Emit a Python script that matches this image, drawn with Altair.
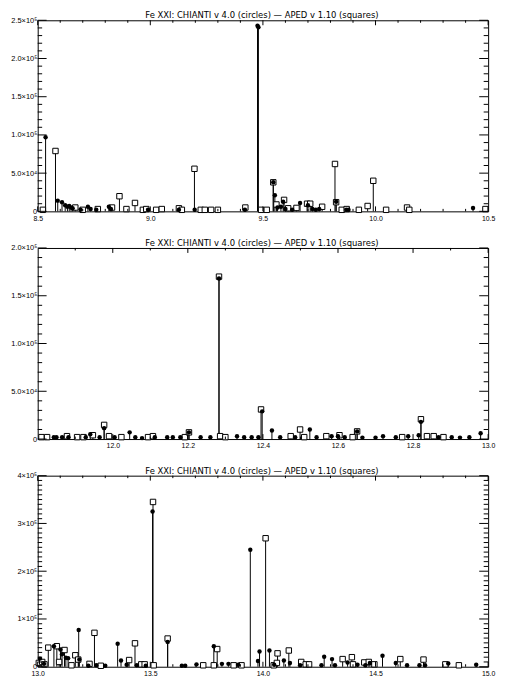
import altair as alt
import pandas as pd

TITLE = "Fe XXI:  CHIANTI v 4.0 (circles) \u2014 APED v 1.10 (squares)"

# ---------------- Panel 1 (8.5 - 10.5 A) ----------------
p1_ch_lam = [8.535, 8.589, 8.608, 8.622, 8.632, 8.640, 8.648, 8.655, 8.690, 8.723,
             8.735, 8.760, 8.816, 8.825, 8.990, 9.127, 9.197, 9.420, 9.476, 9.480,
             9.546, 9.553, 9.565, 9.580, 9.590, 9.600, 9.630, 9.665, 9.700, 9.720,
             9.735, 9.750, 9.825, 9.870, 9.880, 10.433]
p1_ch_val = [97000, 14000, 12000, 8000, 6000, 7000, 5000, 4000, 2000, 6000,
             3000, 2000, 6000, 3000, 2000, 2000, 2000, 2000, 243000, 241000,
             38000, 21000, 5000, 6000, 12500, 3000, 2000, 11000, 8000, 3000,
             2000, 3000, 12500, 2000, 2000, 4500]
p1_ap_lam = [8.523, 8.579, 8.667, 8.700, 8.767, 8.830, 8.863, 8.894, 8.932, 8.967,
             8.982, 9.026, 9.051, 9.127, 9.140, 9.196, 9.224, 9.242, 9.270, 9.300,
             9.422, 9.492, 9.517, 9.546, 9.560, 9.594, 9.612, 9.649, 9.696, 9.710,
             9.763, 9.820, 9.825, 9.850, 9.872, 9.926, 9.965, 9.990, 10.047, 10.140,
             10.150, 10.488]
p1_ap_val = [2000, 79000, 5000, 2000, 3000, 5000, 19800, 3000, 11000, 2000,
             3000, 2000, 3000, 4000, 2000, 55700, 2000, 2000, 2000, 2000,
             5000, 2000, 2000, 38000, 9000, 15000, 4000, 4500, 10000, 10000,
             6000, 62000, 12000, 2000, 3000, 2000, 7000, 40000, 2000, 5000,
             2000, 3000]

# ---------------- Panel 2 (11.8 - 13.0 A) ----------------
p2_ch_lam = [11.843, 11.850, 11.865, 11.882, 11.928, 11.940, 11.965, 11.977, 12.005, 12.045,
             12.060, 12.078, 12.112, 12.145, 12.160, 12.180, 12.203, 12.234, 12.260, 12.283,
             12.331, 12.350, 12.370, 12.388, 12.398, 12.424, 12.446, 12.486, 12.525, 12.543,
             12.583, 12.600, 12.618, 12.651, 12.665, 12.700, 12.720, 12.754, 12.787, 12.815,
             12.821, 12.868, 12.903, 12.925, 12.950, 12.980]
p2_ch_val = [2000, 2000, 2000, 2000, 2000, 5000, 2000, 11400, 2000, 7000,
             2000, 1000, 2000, 2000, 2000, 2000, 7000, 2000, 2000, 168000,
             3000, 2000, 2000, 2000, 29000, 9000, 2000, 2000, 10000, 2000,
             3000, 3000, 2000, 8000, 1500, 1500, 3000, 2000, 3000, 4000,
             18000, 2000, 2000, 1500, 2000, 6000]
p2_ap_lam = [11.810, 11.825, 11.878, 11.905, 11.922, 11.947, 11.977, 11.990, 12.023, 12.094,
             12.107, 12.192, 12.203, 12.283, 12.286, 12.300, 12.395, 12.474, 12.499, 12.510,
             12.569, 12.604, 12.639, 12.651, 12.771, 12.821, 12.837, 12.855, 12.881]
p2_ap_val = [2000, 2000, 3000, 2000, 2000, 4000, 14800, 3000, 2000, 2000,
             3000, 2000, 7000, 170000, 3000, 2000, 31000, 3000, 10000, 2000,
             3000, 4000, 2000, 8000, 2000, 20700, 3000, 3000, 2000]

# ---------------- Panel 3 (13.0 - 15.0 A) ----------------
p3_ch_lam = [13.010, 13.028, 13.072, 13.101, 13.108, 13.125, 13.135, 13.182, 13.185, 13.225,
             13.260, 13.300, 13.355, 13.370, 13.395, 13.440, 13.480, 13.510, 13.577, 13.640,
             13.655, 13.705, 13.782, 13.818, 13.847, 13.890, 13.944, 13.978, 13.985, 14.029,
             14.050, 14.093, 14.120, 14.165, 14.260, 14.272, 14.307, 14.320, 14.376, 14.420,
             14.455, 14.475, 14.531, 14.590, 14.640, 14.695, 14.720, 14.823, 14.947]
p3_ch_val = [17000, 6000, 43000, 36000, 26000, 19000, 18000, 77000, 15000, 2000,
             3000, 2000, 48000, 13000, 4000, 3000, 2000, 325000, 52000, 2000,
             2000, 5000, 43000, 6000, 6000, 4000, 245000, 12000, 32000, 34000,
             4000, 13000, 8000, 3000, 3000, 21000, 16000, 3000, 9000, 4000,
             3000, 8000, 23000, 8000, 3000, 3000, 3000, 7000, 4000]
p3_ap_lam = [13.005, 13.020, 13.030, 13.047, 13.085, 13.095, 13.119, 13.150, 13.167, 13.180,
             13.230, 13.252, 13.280, 13.406, 13.432, 13.460, 13.475, 13.512, 13.515, 13.577,
             13.735, 13.782, 13.797, 13.870, 13.905, 14.012, 14.048, 14.062, 14.065, 14.115,
             14.170, 14.190, 14.205, 14.354, 14.395, 14.400, 14.450, 14.470, 14.495, 14.610,
             14.713, 14.810, 14.870]
p3_ap_val = [8000, 10000, 5000, 40000, 43000, 10000, 35000, 3000, 24000, 15000,
             6000, 71000, 2000, 14000, 49000, 5000, 5000, 345000, 3000, 59000,
             3000, 3000, 37000, 3000, 3000, 269000, 3000, 8000, 28000, 34000,
             10000, 5000, 5000, 16000, 20000, 5000, 9000, 10000, 5000, 16000,
             15000, 5000, 3000]

# ---------------- Axes ----------------
p1_xdom = [8.5, 10.5]
p1_xmajor = [8.5, 9.0, 9.5, 10.0, 10.5]
p1_xminor = [8.6, 8.7, 8.8, 8.9, 9.1, 9.2, 9.3, 9.4, 9.6, 9.7, 9.8, 9.9, 10.1, 10.2, 10.3, 10.4]
p1_ydom = [0, 250000]
p1_ymajor = [0, 50000, 100000, 150000, 200000, 250000]
p1_ylabels = ["0", "5.0\u00d710\u2074", "1.0\u00d710\u2075", "1.5\u00d710\u2075", "2.0\u00d710\u2075", "2.5\u00d710\u2075"]

p2_xdom = [11.8, 13.0]
p2_xmajor = [12.0, 12.2, 12.4, 12.6, 12.8, 13.0]
p2_xminor = [11.9, 12.1, 12.3, 12.5, 12.7, 12.9]
p2_ydom = [0, 200000]
p2_ymajor = [0, 50000, 100000, 150000, 200000]
p2_ylabels = ["0", "5.0\u00d710\u2074", "1.0\u00d710\u2075", "1.5\u00d710\u2075", "2.0\u00d710\u2075"]

p3_xdom = [13.0, 15.0]
p3_xmajor = [13.0, 13.5, 14.0, 14.5, 15.0]
p3_xminor = [13.1, 13.2, 13.3, 13.4, 13.6, 13.7, 13.8, 13.9, 14.1, 14.2, 14.3, 14.4, 14.6, 14.7, 14.8, 14.9]
p3_ydom = [0, 400000]
p3_ymajor = [0, 100000, 200000, 300000, 400000]
p3_ylabels = ["0", "1\u00d710\u2075", "2\u00d710\u2075", "3\u00d710\u2075", "4\u00d710\u2075"]

W, H = 455, 193
FONT = "Liberation Sans"
TFONT = "DejaVu Sans"


def label_expr(values, labels):
    expr = "''"
    for v, l in reversed(list(zip(values, labels))):
        expr = f"datum.value == {v} ? '{l}' : ({expr})"
    return expr


def panel(ch_lam, ch_val, ap_lam, ap_val, xdom, xmajor, xminor, ydom, ymajor, ylabels, ystep):
    df_c = pd.DataFrame({"lam": ch_lam, "val": ch_val, "zero": 0})
    df_a = pd.DataFrame({"lam": ap_lam, "val": ap_val, "zero": 0})
    df_all = pd.concat([df_c, df_a], ignore_index=True)

    xs = alt.Scale(domain=xdom, nice=False, zero=False)
    ys = alt.Scale(domain=ydom, nice=False, zero=False)
    xaxis = alt.Axis(values=xmajor, format=".1f", ticks=False, domain=False, grid=False,
                     labelFont=FONT, labelFontSize=7, labelPadding=3, labelFlush=False,
                     labelColor="black", title=None, minExtent=11, maxExtent=11)
    yaxis = alt.Axis(values=ymajor, labelExpr=label_expr(ymajor, ylabels), ticks=False,
                     domain=False, grid=False, labelFont=FONT, labelFontSize=7.5,
                     labelPadding=1, labelFlush=False, labelColor="black", title=None,
                     minExtent=29, maxExtent=29)
    X = alt.X("lam:Q", scale=xs, axis=xaxis)
    Y = alt.Y("val:Q", scale=ys, axis=yaxis)

    stems = alt.Chart(df_all).mark_rule(color="black", strokeWidth=1).encode(
        x=X, y=Y, y2="zero:Q")
    squares = alt.Chart(df_a).mark_point(shape="square", size=30, filled=True, fill="white",
                                         stroke="black", strokeWidth=1, opacity=1).encode(x=X, y=Y)
    circles = alt.Chart(df_c).mark_point(shape="circle", size=20, filled=True,
                                         color="black", opacity=1).encode(x=X, y=Y)

    yminor = [v for v in range(int(ydom[0]), int(ydom[1]) + 1, ystep) if v not in ymajor]
    dxM = pd.DataFrame({"lam": xmajor})
    dxm = pd.DataFrame({"lam": xminor})
    dyM = pd.DataFrame({"val": ymajor})
    dym = pd.DataFrame({"val": yminor})
    tk = dict(color="black", strokeWidth=1)
    ticks = [
        alt.Chart(dxM).mark_rule(**tk).encode(x=X, y=alt.value(H), y2=alt.value(H - 5)),
        alt.Chart(dxM).mark_rule(**tk).encode(x=X, y=alt.value(0), y2=alt.value(5)),
        alt.Chart(dxm).mark_rule(**tk).encode(x=X, y=alt.value(H), y2=alt.value(H - 2.5)),
        alt.Chart(dxm).mark_rule(**tk).encode(x=X, y=alt.value(0), y2=alt.value(2.5)),
        alt.Chart(dyM).mark_rule(**tk).encode(y=Y, x=alt.value(0), x2=alt.value(9)),
        alt.Chart(dyM).mark_rule(**tk).encode(y=Y, x=alt.value(W - 9), x2=alt.value(W)),
        alt.Chart(dym).mark_rule(**tk).encode(y=Y, x=alt.value(0), x2=alt.value(4.5)),
        alt.Chart(dym).mark_rule(**tk).encode(y=Y, x=alt.value(W - 4.5), x2=alt.value(W)),
    ]
    title = alt.Chart(pd.DataFrame({"t": [TITLE]})).mark_text(
        font=TFONT, fontSize=8.5, color="black", align="center", baseline="alphabetic"
    ).encode(x=alt.value(W / 2 - 1), y=alt.value(-2), text="t:N")
    return alt.layer(stems, squares, circles, *ticks, title).properties(width=W, height=H)


c1 = panel(p1_ch_lam, p1_ch_val, p1_ap_lam, p1_ap_val, p1_xdom, p1_xmajor, p1_xminor,
           p1_ydom, p1_ymajor, p1_ylabels, 10000)
c2 = panel(p2_ch_lam, p2_ch_val, p2_ap_lam, p2_ap_val, p2_xdom, p2_xmajor, p2_xminor,
           p2_ydom, p2_ymajor, p2_ylabels, 10000)
c3 = panel(p3_ch_lam, p3_ch_val, p3_ap_lam, p3_ap_val, p3_xdom, p3_xmajor, p3_xminor,
           p3_ydom, p3_ymajor, p3_ylabels, 10000)

chart = alt.vconcat(c1, c2, c3, spacing=15).properties(
    padding={"left": 0, "top": -1, "right": 5, "bottom": 0},
    background="white",
).configure_view(stroke="black", strokeWidth=1)

chart.save("out.html", embed_options={"renderer": "svg", "actions": False})
